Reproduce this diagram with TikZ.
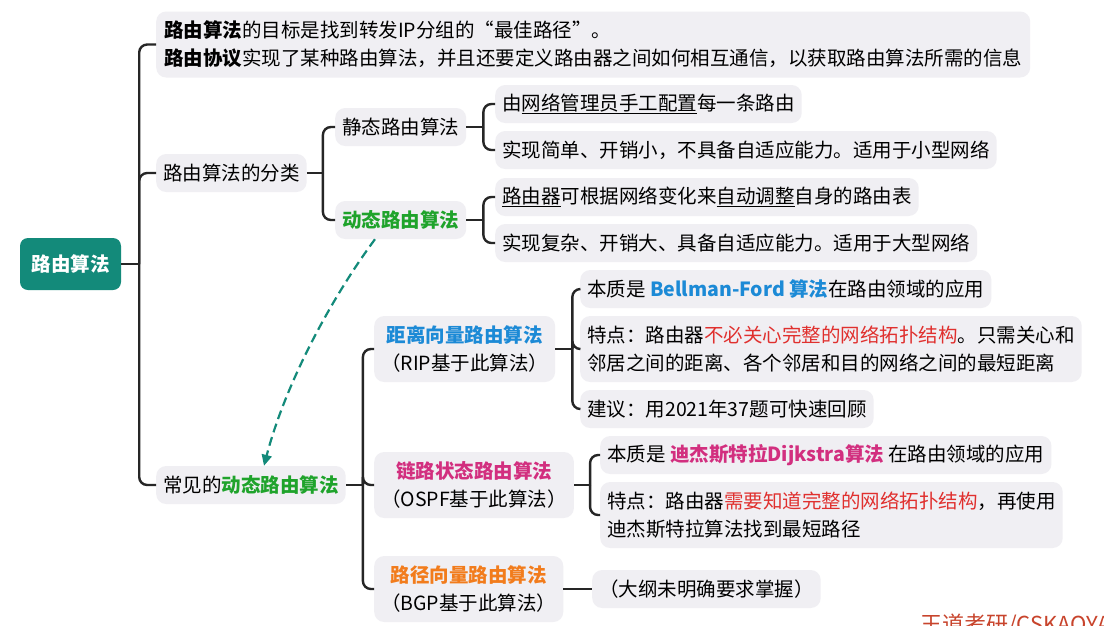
\documentclass[tikz,border=0pt]{standalone}
\usepackage{fontspec}
\setmainfont{Noto Sans CJK SC}
\usetikzlibrary{arrows.meta}

\definecolor{rootteal}{HTML}{138A7A}
\definecolor{boxgray}{HTML}{F0EFF3}
\definecolor{linkdark}{HTML}{262626}
\definecolor{dyngreen}{HTML}{1FA32B}
\definecolor{dvblue}{HTML}{1C8AD6}
\definecolor{lspink}{HTML}{D22F7F}
\definecolor{pvorange}{HTML}{F27C1C}
\definecolor{keyred}{HTML}{E0302E}
\definecolor{markred}{HTML}{C8442C}

\tikzset{
  topic/.style={rounded corners=10pt, fill=boxgray, inner xsep=7pt, inner ysep=0pt,
    minimum height=38pt, anchor=west},
  twoline/.style={topic, minimum height=66pt, align=left},
  rootbox/.style={rounded corners=8pt, fill=rootteal, text=white, font=\fontsize{19.5}{28}\selectfont\bfseries,
    minimum width=101pt, minimum height=52pt},
  link/.style={draw=linkdark, line width=2.4pt, rounded corners=8pt},
  flow/.style={draw=rootteal, line width=2.2pt, dash pattern=on 9pt off 5pt,
    -{Triangle[length=11pt,width=10pt]}},
}

\begin{document}
\begin{tikzpicture}[x=1pt, y=-1pt, font=\fontsize{19.5}{28}\selectfont]
  % --- khung ---
  \fill[white] (0,0) rectangle (1104,625);
  \useasboundingbox (0,0) rectangle (1104,625);

  % --- 1. nút gốc ---
  \node[rootbox] (root) at (70.5,264) {路由算法};

  % --- 2. nhánh cấp 1 ---
  \node[twoline, inner xsep=8pt] (goal) at (156,44.5) {\textbf{路由算法}的目标是找到转发IP分组的“最佳路径”。\\
    \textbf{路由协议}实现了某种路由算法，并且还要定义路由器之间如何相互通信，以获取路由算法所需的信息};
  \node[topic] (classify) at (156,173) {路由算法的分类};
  \node[topic] (common) at (156,485) {常见的\textcolor{dyngreen}{\textbf{动态路由算法}}};

  % --- 3. phân loại ---
  \node[topic] (static) at (335,127) {静态路由算法};
  \node[topic] (dynamic) at (335,220) {\textcolor{dyngreen}{\textbf{动态路由算法}}};

  \node[topic] (s1) at (495,104) {由\underline{网络管理员手工配置}每一条路由};
  \node[topic] (s2) at (495,150) {实现简单、开销小，不具备自适应能力。适用于小型网络};
  \node[topic] (d1) at (495,197) {\underline{路由器}可根据网络变化来\underline{自动调整}自身的路由表};
  \node[topic] (d2) at (495,243) {实现复杂、开销大、具备自适应能力。适用于大型网络};

  % --- 4. thuật toán động thường gặp ---
  \node[twoline, align=center] (dv) at (374,349) {\textcolor{dvblue}{\textbf{距离向量路由算法}}\\（RIP基于此算法）};
  \node[twoline, align=center] (ls) at (374,485) {\textcolor{lspink}{\textbf{链路状态路由算法}}\\（OSPF基于此算法）};
  \node[twoline, align=center] (pv) at (374,589) {\textcolor{pvorange}{\textbf{路径向量路由算法}}\\（BGP基于此算法）};

  \node[topic] (bf) at (580,289) {本质是 \textcolor{dvblue}{\textbf{Bellman-Ford 算法}}在路由领域的应用};
  \node[twoline] (dvfeat) at (580,349) {特点：路由器\textcolor{keyred}{不必关心完整的网络拓扑结构}。只需关心和\\
    邻居之间的距离、各个邻居和目的网络之间的最短距离};
  \node[topic] (dvtip) at (580,409) {建议：用2021年37题可快速回顾};

  \node[topic] (dij) at (600,455) {本质是 \textcolor{lspink}{\textbf{迪杰斯特拉Dijkstra算法}} 在路由领域的应用};
  \node[twoline] (lsfeat) at (600,515) {特点：路由器\textcolor{keyred}{需要知道完整的网络拓扑结构}，再使用\\
    迪杰斯特拉算法找到最短路径};

  \node[topic] (pvnote) at (592,589) {（大纲未明确要求掌握）};

  % --- 5. điểm rẽ nhánh ---
  \coordinate (jroot) at ([xshift=18pt]root.east);
  \coordinate (jcls) at ([xshift=16pt]classify.east);
  \coordinate (jsta) at ([xshift=17pt]static.east);
  \coordinate (jdyn) at ([xshift=17pt]dynamic.east);
  \coordinate (jcom) at ([xshift=17pt]common.east);
  \coordinate (jdv) at ([xshift=17pt]dv.east);
  \coordinate (jls) at ([xshift=16pt]ls.east);

  % --- 6. đường nối ---
  \draw[link] (root.east) -- (jroot);
  \foreach \kid in {goal, classify, common}
    \draw[link] (jroot) |- (\kid.west);

  \draw[link] (classify.east) -- (jcls);
  \foreach \kid in {static, dynamic}
    \draw[link] (jcls) |- (\kid.west);

  \draw[link] (static.east) -- (jsta);
  \foreach \kid in {s1, s2}
    \draw[link] (jsta) |- (\kid.west);

  \draw[link] (dynamic.east) -- (jdyn);
  \foreach \kid in {d1, d2}
    \draw[link] (jdyn) |- (\kid.west);

  \draw[link] (common.east) -- (jcom);
  \foreach \kid in {dv, ls, pv}
    \draw[link] (jcom) |- (\kid.west);

  \draw[link] (dv.east) -- (jdv);
  \foreach \kid in {bf, dvfeat, dvtip}
    \draw[link] (jdv) |- (\kid.west);

  \draw[link] (ls.east) -- (jls);
  \foreach \kid in {dij, lsfeat}
    \draw[link] (jls) |- (\kid.west);

  \draw[link] (pv.east) -- (pvnote.west);

  % --- 7. mũi tên nét đứt ---
  \draw[flow] ([xshift=40pt]dynamic.south west) .. controls (330,300) and (285,385)
    .. ([xshift=108pt]common.north west);

  % --- 8. dấu bản quyền (bị cắt) ---
  \node[anchor=base west, inner sep=0pt, text=markred, font=\fontsize{22}{22}\selectfont] (mark)
    at (920,632) {王道考研/CSKAOYAN.COM};
\end{tikzpicture}
\end{document}
